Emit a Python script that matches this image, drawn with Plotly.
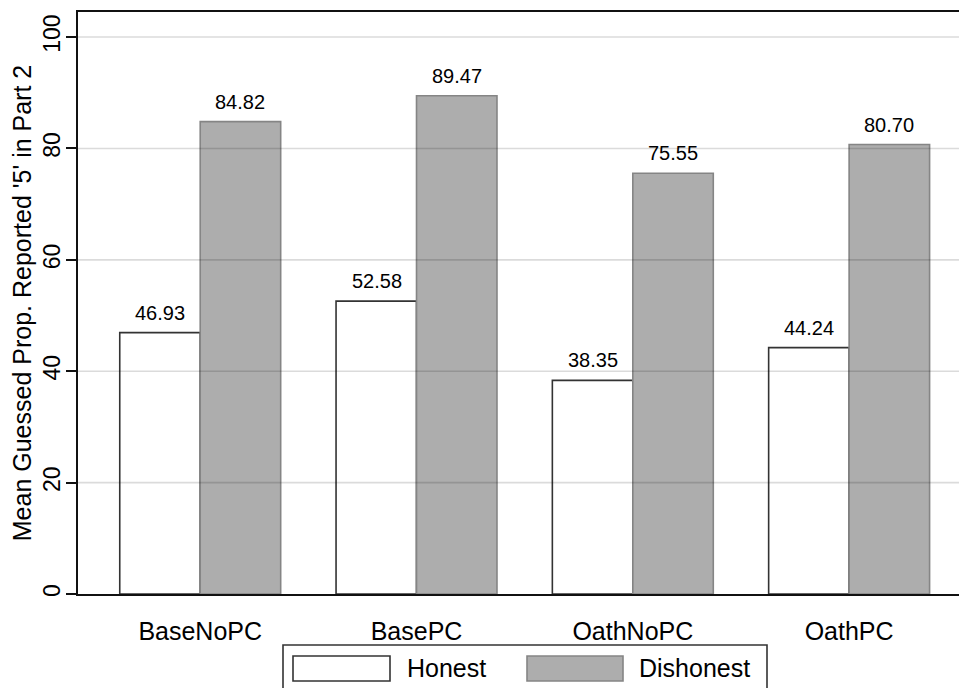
import plotly.graph_objects as go

# ---- data ----
categories = ["BaseNoPC", "BasePC", "OathNoPC", "OathPC"]
series_names = ["Honest", "Dishonest"]
honest = [46.93, 52.58, 38.35, 44.24]
dishonest = [84.82, 89.47, 75.55, 80.70]
y_ticks = [0, 20, 40, 60, 80, 100]
y_title = "Mean Guessed Prop. Reported '5' in Part 2"

# ---- geometry / style ----
W, H = 959, 688
ML, MR, MT, MB = 78, 0, 12, 94
PW, PH = W - ML - MR, H - MT - MB
FONT = "Liberation Sans, Arial, sans-serif"
fills = ["#ffffff", "#adadad"]
outlines = ["#333333", "#858585"]


def px2x(px):
    return (px - ML) / PW


def px2y(py):
    return (H - MB - py) / PH


fig = go.Figure()
for name, vals, fc, lc in zip(series_names, [honest, dishonest], fills, outlines):
    fig.add_trace(go.Bar(
        x=categories, y=vals, name=name,
        marker=dict(color=fc, line=dict(color=lc, width=1.6)),
        showlegend=False,
        text=[f"{v:.2f}" for v in vals],
        textposition="none",
    ))

annotations = []
shapes = []
# value labels
bar_half = 40
for k, vals in enumerate([honest, dishonest]):
    sh = -bar_half if k == 0 else bar_half
    for c, v in zip(categories, vals):
        annotations.append(dict(
            x=c, y=v, xref="x", yref="y", text=f"{v:.2f}", showarrow=False,
            xshift=sh, yshift=7, yanchor="bottom",
            font=dict(family=FONT, size=20, color="#000000"),
        ))

# gridlines drawn above bars (as in the reference)
for t in y_ticks[1:]:
    shapes.append(dict(type="line", xref="paper", yref="y", x0=0, x1=1, y0=t, y1=t,
                       line=dict(color="rgba(0,0,0,0.14)", width=1.6), layer="above"))

# custom legend
shapes.append(dict(type="rect", xref="paper", yref="paper",
                   x0=px2x(283), x1=px2x(767), y0=px2y(645), y1=px2y(705),
                   line=dict(color="#333333", width=1.6), fillcolor="rgba(0,0,0,0)"))
sym_x = [(293, 390), (527, 623)]
txt_x = [405, 637]
for i, name in enumerate(series_names):
    shapes.append(dict(type="rect", xref="paper", yref="paper",
                       x0=px2x(sym_x[i][0]), x1=px2x(sym_x[i][1]),
                       y0=px2y(656), y1=px2y(681),
                       line=dict(color=outlines[i], width=1.6), fillcolor=fills[i]))
    annotations.append(dict(x=px2x(txt_x[i]), y=px2y(668), xref="paper", yref="paper",
                            text=name, showarrow=False, xanchor="left", yanchor="middle",
                            font=dict(family=FONT, size=25, color="#000000")))

fig.update_layout(
    width=W, height=H,
    margin=dict(l=ML, r=MR, t=MT, b=MB, pad=0, autoexpand=False),
    paper_bgcolor="white", plot_bgcolor="white",
    barmode="group", bargap=0.256, bargroupgap=0,
    font=dict(family=FONT, color="#000000"),
    annotations=annotations, shapes=shapes,
    showlegend=False,
)
fig.update_xaxes(
    automargin=False,
    range=[-0.565, 3.508], showgrid=False, zeroline=False,
    showline=True, linecolor="#111111", linewidth=2, mirror=True,
    ticks="", ticklabelstandoff=14,
    tickfont=dict(family=FONT, size=25, color="#000000"),
)
fig.update_yaxes(
    automargin=False,
    range=[0, 104.5], tickvals=y_ticks, showgrid=False, zeroline=False,
    showline=True, linecolor="#111111", linewidth=2, mirror=False,
    ticks="outside", ticklen=10, tickwidth=2, tickcolor="#111111",
    tickangle=-90, ticklabelstandoff=-3,
    tickfont=dict(family=FONT, size=23, color="#000000"),
    title=dict(text=y_title, font=dict(family=FONT, size=25, color="#000000"), standoff=0),
)

fig.write_html(
    "out.html",
    config={"displayModeBar": False},
    post_script="document.body.style.margin='0';document.body.style.overflow='hidden';",
)
